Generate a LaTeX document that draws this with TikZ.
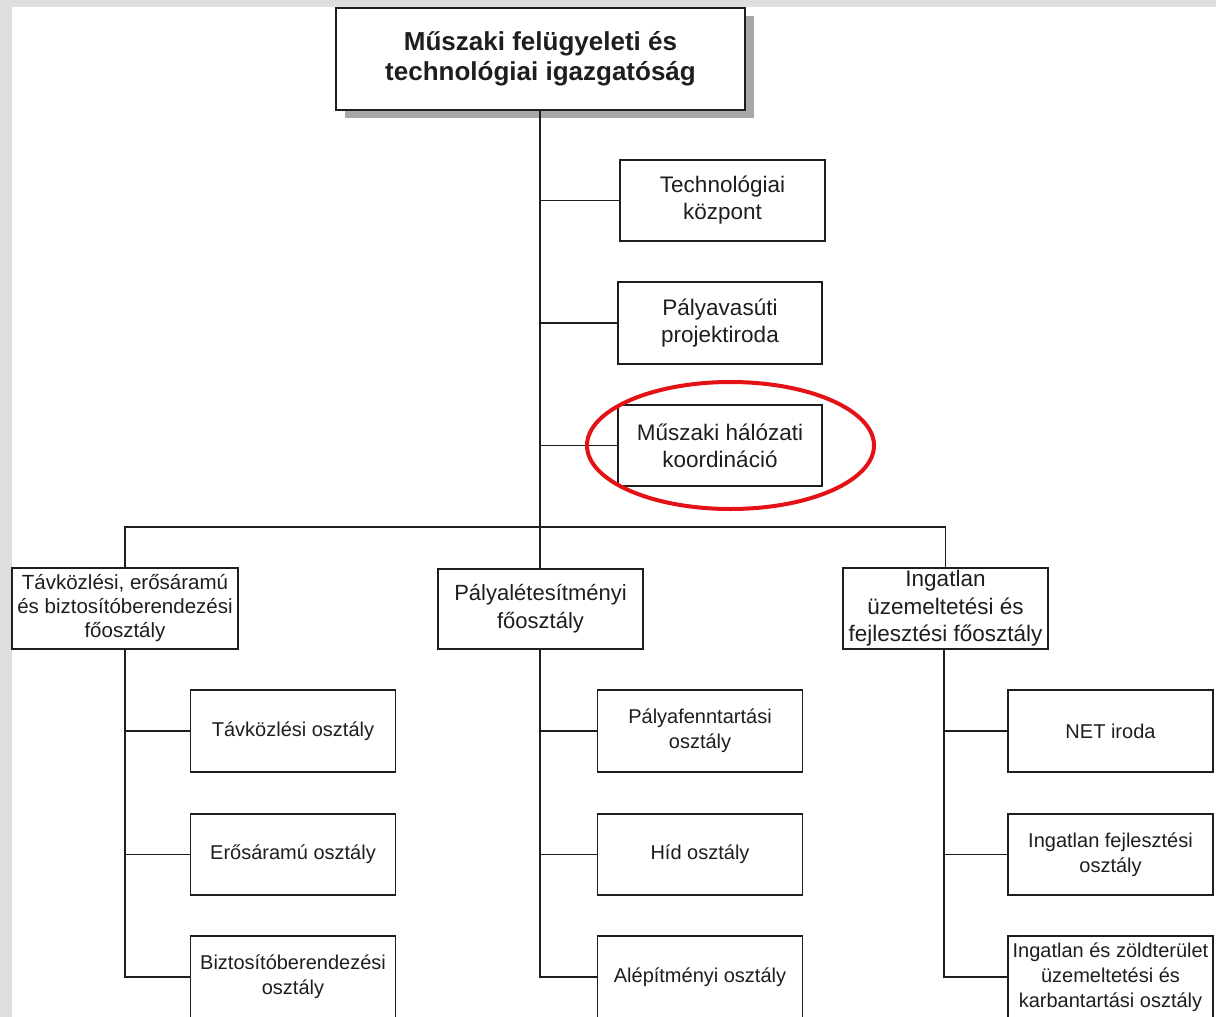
\documentclass[tikz,border=0pt]{standalone}
\usepackage{fontspec}
\setmainfont{Liberation Sans}
\usetikzlibrary{shadows}
\definecolor{bggray}{RGB}{222,222,222}
\definecolor{shadowgray}{RGB}{168,168,168}
\definecolor{ink}{RGB}{30,30,30}
\definecolor{ringred}{RGB}{228,18,22}
\begin{document}
\begin{tikzpicture}[x=1pt,y=-1pt,
  box/.style={draw=ink, line width=1.1pt, fill=white, rectangle, inner sep=0pt, align=center, text=ink},
  headbox/.style={box, minimum width=409pt, minimum height=102pt,
     font=\bfseries\fontsize{26}{30}\selectfont,
     drop shadow={shadow xshift=9pt, shadow yshift=-8pt, fill=shadowgray, opacity=1}},
  sidebox/.style={box, minimum width=205pt, minimum height=81pt, font=\fontsize{22.5}{27}\selectfont},
  mainbox/.style={box, minimum height=81pt, font=\fontsize{22.5}{27.5}\selectfont},
  subbox/.style={box, minimum width=205pt, minimum height=82pt, font=\fontsize{20}{25}\selectfont},
  link/.style={draw=ink, line width=1.2pt}]
\useasboundingbox (0,0) rectangle (1216,1017);
\fill[white] (0,0) rectangle (1216,1017);
\fill[bggray] (0,0) rectangle (1216,7);
\fill[bggray] (0,0) rectangle (12,1017);

% top
\node[headbox] (top) at (540.5,59) {Műszaki felügyeleti és\\technológiai igazgatóság};

% staff units
\node[sidebox] (tech) at (722.5,200.5) {Technológiai\\központ};
\node[sidebox, minimum width=204pt, minimum height=82pt] (palya) at (720,323) {Pályavasúti\\projektiroda};
\node[sidebox, minimum width=204pt] (musz) at (720,445.5) {Műszaki hálózati\\koordináció};

% main departments
\node[mainbox, minimum width=226pt, font=\fontsize{20.5}{24}\selectfont] (tav) at (125,608.5) {Távközlési, erősáramú\\és biztosítóberendezési\\főosztály};
\node[mainbox, minimum width=205pt, minimum height=80pt, font=\fontsize{22}{28}\selectfont] (ple) at (540.5,609) {Pályalétesítményi\\főosztály};
\node[mainbox, minimum width=205pt] (ing) at (945.5,608.5) {Ingatlan\\üzemeltetési és\\fejlesztési főosztály};

% sub departments
\node[subbox] (t1) at (293,731) {Távközlési osztály};
\node[subbox, minimum height=81pt] (t2) at (293,854.5) {Erősáramú osztály};
\node[subbox] (t3) at (293,977) {Biztosítóberendezési\\osztály};

\node[subbox] (p1) at (700,731) {Pályafenntartási\\osztály};
\node[subbox, minimum height=81pt] (p2) at (700,854.5) {Híd osztály};
\node[subbox] (p3) at (700,977) {Alépítményi osztály};

\node[subbox] (i1) at (1110.5,731) {NET iroda};
\node[subbox, minimum height=81pt] (i2) at (1110.5,854.5) {Ingatlan fejlesztési\\osztály};
\node[subbox] (i3) at (1110.5,977) {Ingatlan és zöldterület\\üzemeltetési és\\karbantartási osztály};

% connectors
\coordinate (trunk) at (540,110);
\coordinate (bus) at (540,527);
\path[link] (top.south -| trunk) -- (ple.north -| trunk);
\path[link] (tech.west) -- (tech.west -| trunk);
\path[link] (palya.west) -- (palya.west -| trunk);
\path[link] (musz.west) -- (musz.west -| trunk);
\path[link] (tav.north) |- (bus) -| (ing.north);

\path[link] (tav.south) |- (t3.west);
\path[link] (t1.west) -- (t1.west -| tav.south);
\path[link] (t2.west) -- (t2.west -| tav.south);

\path[link] (ple.south -| trunk) |- (p3.west);
\path[link] (p1.west) -- (p1.west -| trunk);
\path[link] (p2.west) -- (p2.west -| trunk);

\coordinate (icol) at (944,649);
\path[link] (icol) |- (i3.west);
\path[link] (i1.west) -- (i1.west -| icol);
\path[link] (i2.west) -- (i2.west -| icol);

% highlight ring
\draw[ringred, line width=4pt] (730.5,445.5) ellipse [x radius=143.5pt, y radius=63.5pt];
\end{tikzpicture}
\end{document}
